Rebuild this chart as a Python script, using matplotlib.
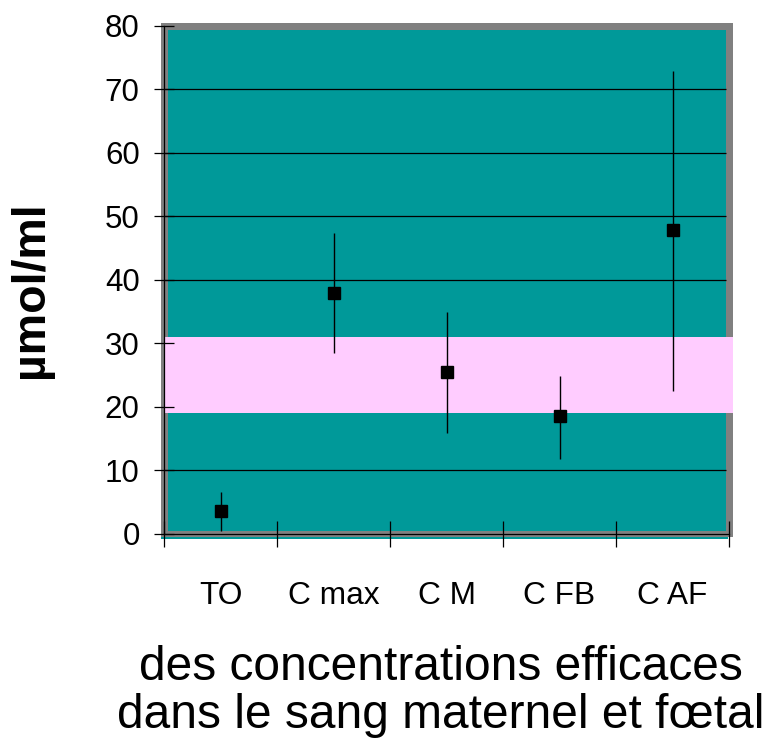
import matplotlib
matplotlib.use("Agg")
import matplotlib.pyplot as plt
import matplotlib.transforms as mtransforms
from matplotlib.patches import Rectangle

categories = ["TO", "C max", "C M", "C FB", "C AF"]
means = [3.5, 37.9, 25.4, 18.6, 47.9]
lower = [0.5, 28.4, 15.9, 11.8, 22.4]
upper = [6.5, 47.3, 34.9, 24.8, 72.8]
band = (19, 31)
yticks = [0, 10, 20, 30, 40, 50, 60, 70, 80]

W, H = 769, 742
plt.rcParams['font.family'] = ['Liberation Sans', 'DejaVu Sans']
fig = plt.figure(figsize=(W / 100, H / 100), dpi=100)
fig.patch.set_facecolor('white')

def fx(px):
    return px / W

def fy(py):
    return 1 - py / H

L, R, T, B = 164, 729, 25.7, 533.7
ax = fig.add_axes([fx(L), fy(B), (R - L) / W, (B - T) / H])
ax.set_xlim(0, 5)
ax.set_ylim(0, 80)
ax.patch.set_visible(False)

# plot-area frame (gray border, teal fill)
ax.add_patch(Rectangle((fx(160.7), fy(536.7)), (732.7 - 160.7) / W, (536.7 - 22.7) / H,
                       transform=fig.transFigure, facecolor='#808080', edgecolor='none',
                       clip_on=False, zorder=0.1))
ax.add_patch(Rectangle((fx(167.7), fy(530.7)), (726 - 167.7) / W, (530.7 - 30) / H,
                       transform=fig.transFigure, facecolor='#009999', edgecolor='none',
                       clip_on=False, zorder=0.2))
ax.add_patch(Rectangle((fx(160.7), fy(538.7)), (728 - 160.7) / W, 2.0 / H,
                       transform=fig.transFigure, facecolor='#009999', edgecolor='none',
                       clip_on=False, zorder=0.2))

# gridlines
grid_right = (726 - L) / (R - L) * 5
ax.hlines([v for v in yticks if 0 < v < 80], 0, grid_right, color='black', lw=0.9, zorder=0.5)

# pink band
blend = mtransforms.blended_transform_factory(fig.transFigure, ax.transData)
ax.add_patch(Rectangle((fx(164), band[0]), (733 - 164) / W, band[1] - band[0],
                       transform=blend, facecolor='#FFCCFF', edgecolor='none',
                       clip_on=False, zorder=0.6))

# data
xs = [i + 0.5 for i in range(len(categories))]
ax.vlines(xs, lower, upper, color='black', lw=1.0, zorder=3)
ax.plot(xs, means, 's', color='black', ms=9.3, zorder=4, clip_on=False)

# spines
for s in ['top', 'right']:
    ax.spines[s].set_visible(False)
for s in ['left', 'bottom']:
    ax.spines[s].set_color('black')
    ax.spines[s].set_linewidth(0.9)
    ax.spines[s].set_zorder(2)

ax.set_yticks(yticks)
ax.set_yticklabels([str(v) for v in yticks], fontsize=22.5)
ax.tick_params(axis='y', direction='inout', length=15, width=0.9, pad=10, color='black')
ax.set_xticks(range(0, 6))
ax.set_xticklabels([])
ax.tick_params(axis='x', direction='inout', length=19, width=0.9, color='black')

xblend = mtransforms.blended_transform_factory(ax.transData, fig.transFigure)
for x, lab in zip(xs, categories):
    ax.text(x, fy(604), lab, transform=xblend, ha='center', va='baseline', fontsize=22.8)

fig.text(fx(441), fy(680), "des concentrations efficaces", ha='center', va='baseline', fontsize=34.5)
fig.text(fx(441), fy(728), "dans le sang maternel et fœtal", ha='center', va='baseline', fontsize=34.5)
fig.text(fx(31), fy(290), "µmol/ml", rotation=90, ha='center', va='center', fontsize=33.5,
         fontweight='bold')

fig.savefig('out.png', dpi=100)
